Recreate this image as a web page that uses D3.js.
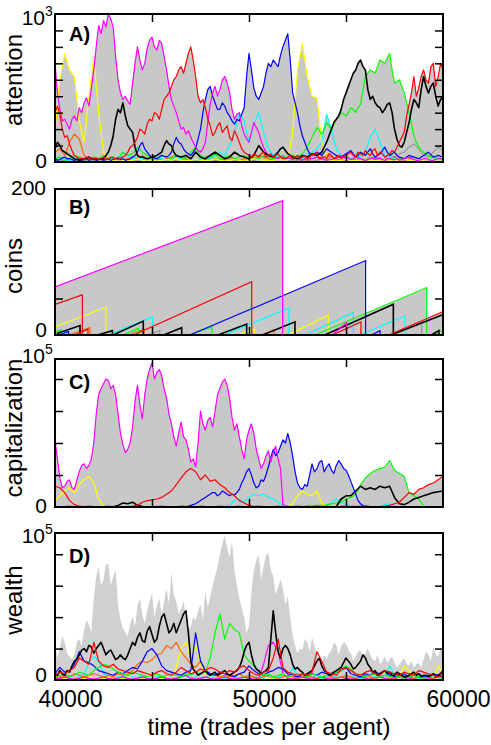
<!DOCTYPE html>
<html><head><meta charset="utf-8">
<script src="https://cdn.jsdelivr.net/npm/d3@7"></script>
<style>body{margin:0;background:#fff}text{font-family:"Liberation Sans",Arial,Helvetica,sans-serif}</style>
</head><body><svg id="c" width="491" height="745"></svg>
<script>
// ---------- DATA ----------
// every series is sampled evenly from T_START to T_END (81 or 161 samples)
const T_START = 40000, T_END = 60000;
const timeTicks = [40000, 45000, 50000, 55000, 60000];
const timeLabels = [40000, 50000, 60000];
const attnTicks = [100, 200, 300, 400, 500, 600, 700, 800];
const coinTicks = [50, 100, 150];
const capTicks = [20000, 40000, 60000, 80000];
const wealthTicks = [20000, 40000, 60000, 80000];

// A) attention
const attnMagenta=[600,420,320,250,260,230,200,260,280,250,330,300,360,390,340,450,560,700,830,780,860,820,900,870,820,640,500,420,380,400,370,350,480,600,700,620,560,600,690,740,760,700,680,740,720,640,560,460,380,340,300,250,200,210,170,190,150,120,90,70,60,80,120,240,350,420,460,400,440,500,520,480,420,320,260,290,300,220,170,140,120,180,240,210,180,130,90,60,40,35,30,25,20,30,30,20,25,20,15,20,20,15,10,20,15,25,20,25,30,20,20,15,10,20,15,20,25,30,40,30,20,25,15,20,30,25,20,15,10,15,20,25,15,20,25,15,10,20,20,15,15,20,10,15,20,25,30,20,15,10,10,15,20,20,15,10,10,15,20,20,15];
const attnRed=[300,340,290,200,150,160,110,70,40,30,20,20,15,30,25,15,20,25,15,20,30,15,20,30,25,20,15,25,30,40,60,90,100,120,150,200,190,170,230,260,250,300,290,260,320,380,400,420,460,500,520,560,580,540,600,660,700,620,520,400,360,380,330,260,220,160,180,220,240,180,200,220,150,130,190,160,120,80,60,50,40,30,50,40,30,50,60,30,40,50,30,40,50,30,20,20,30,40,20,30,40,20,30,40,20,30,50,40,60,20,30,30,20,50,40,20,30,40,20,30,40,50,60,40,30,60,50,40,70,50,40,70,80,40,60,50,30,40,50,70,60,90,120,150,180,280,350,420,520,400,450,520,560,500,480,580,600,460,520,600,560];
const attnYellow=[200,500,660,560,520,250,120,400,640,300,60,20,10,15,10,5,10,20,10,5,10,5,10,15,10,20,10,5,10,15,10,5,10,20,10,5,10,15,10,5,10,20,15,10,5,10,15,20,10,180,560,720,520,400,390,120,30,10,5,10,15,10,5,10,20,10,5,10,15,10,5,10,20,10,5,15,10,20,10,15,10];
const attnBlue=[20,10,15,25,30,20,20,15,10,15,20,10,15,20,10,15,20,10,15,20,10,15,20,10,15,20,25,15,20,10,15,20,30,40,60,100,120,80,60,40,30,25,20,30,40,35,30,40,60,110,150,120,110,80,60,50,40,60,80,140,200,300,380,440,460,400,360,320,320,360,340,300,280,250,230,260,250,290,330,520,660,560,450,400,380,420,460,540,600,580,620,600,580,650,700,740,780,620,420,360,300,220,160,120,80,50,40,50,60,50,40,60,80,70,60,50,40,30,30,40,50,60,70,50,30,40,60,50,40,60,80,50,30,40,50,70,90,60,40,50,60,40,30,25,20,30,40,35,30,25,20,30,40,50,60,45,30,35,40,35,30];
const attnBlack=[80,120,100,70,60,50,40,30,20,15,10,15,20,25,30,20,20,15,15,20,20,40,60,100,160,260,320,300,360,280,220,200,180,90,40,30,30,25,20,25,30,35,40,50,60,100,130,110,100,60,40,35,30,35,40,30,20,40,60,45,30,25,20,30,40,50,60,50,40,30,20,25,30,45,60,50,40,35,30,25,20,30,40,70,100,80,60,50,40,35,30,45,60,80,90,70,50,40,30,25,20,30,40,35,30,40,50,45,40,50,60,90,120,160,200,240,260,280,320,380,420,460,500,540,560,600,620,580,560,440,380,400,360,340,330,300,320,350,360,300,200,140,100,90,120,180,240,320,380,360,330,440,520,460,420,460,480,400,340,380,400];
const attnGreen=[20,25,30,15,10,15,20,30,40,35,30,25,20,15,10,20,30,25,20,30,40,30,20,25,30,25,20,40,60,50,40,45,50,70,90,75,60,50,40,35,30,25,20,30,40,35,30,25,20,30,40,35,30,25,20,40,60,75,90,60,40,30,20,25,30,40,50,35,20,25,30,35,40,30,20,25,30,35,40,30,20,25,30,25,20,30,40,35,30,25,20,25,30,35,40,30,20,25,30,30,30,40,50,70,90,120,150,180,210,190,170,200,240,220,200,230,260,280,300,290,280,300,330,320,300,330,350,440,520,540,560,550,540,580,620,610,600,630,660,560,480,490,500,460,420,360,300,230,160,120,90,70,60,50,40,35,30,25,20,20,20];
const attnCyan=[10,20,15,10,20,30,20,10,15,20,10,20,30,20,60,40,20,30,20,10,20,30,20,10,20,30,20,40,20,10,20,30,20,40,60,40,100,180,300,250,120,230,300,180,80,40,30,20,30,20,30,20,40,60,80,120,290,200,80,40,30,20,40,30,60,150,200,120,40,30,20,30,20,40,30,20,10,20,30,20,20];
const attnOrange=[60,80,40,120,170,140,40,20,30,20,10,20,30,20,10,20,30,20,40,20,30,20,10,20,30,40,20,30,20,10,20,30,40,20,10,20,30,20,10,20,30,20,40,30,20,10,20,30,20,40,20,30,10,20,30,20,40,30,20,10,20,10,30,20,10,20,30,20,10,20,30,20,10,20,30,20,10,20,30,20,10];
const attnGray=[10,5,10,15,10,20,10,5,10,15,10,20,30,15,10,20,10,5,10,15,10,20,15,10,5,10,20,15,10,5,10,15,20,10,5,10,20,10,5,10,15,10,20,10,5,10,15,20,10,5,10,15,10,5,10,20,10,15,10,5,10,20,15,10,20,30,20,10,20,40,30,50,60,90,110,80,40,30,60,90,70];

// B) coins : each segment [start time, start coins, end time, end coins]
const coinsMagenta=[[40000,66,51735,184],[54300,0,55030,17]];
const coinsRed=[[40000,42,41410,55],[41000,0,41700,8],[44050,0,50140,73],[54300,0,55770,18],[57200,0,60000,32]];
const coinsYellow=[[40000,11,42630,38],[49400,0,50300,8],[52000,0,54090,27]];
const coinsCyan=[[40100,0,40600,5],[42750,0,45030,25],[48700,0,52060,37],[52900,0,55380,31],[55700,0,58040,26]];
const coinsBlack=[[40100,2,41290,13],[42200,0,42960,6],[43000,0,44550,19],[45600,0,46530,10],[48400,0,49880,15],[50700,0,52370,18],[53900,0,57440,42],[57300,0,60000,28],[59400,0,59790,6]];
const coinsBlue=[[40200,0,40700,5],[46950,0,56010,102],[56300,0,56750,6]];
const coinsGreen=[[40000,4,40300,7],[43500,0,44300,9],[46900,0,48090,11],[53400,0,59160,65],[59500,0,60000,7]];
const coinsOrange=[[40700,0,41800,10],[43800,0,44600,8],[50600,0,51300,7]];
const coinsGray=[[44800,0,45400,6],[57400,0,58900,16]];

// C) capitalization
const capMagenta=[42000,30000,18000,12000,13000,16000,17000,12000,11000,17000,22000,26000,27000,24000,26000,30000,40000,58000,70000,74000,77000,80000,79000,74000,76000,70000,58000,46000,39000,34000,36000,40000,50000,66000,76000,64000,55000,70000,80000,86000,90000,80000,84000,86000,82000,74000,68000,58000,52000,44000,38000,46000,53000,44000,42000,36000,28000,30000,25000,40000,60000,52000,48000,54000,56000,50000,60000,70000,74000,78000,80000,76000,68000,56000,48000,52000,44000,36000,30000,42000,48000,52000,46000,36000,30000,24000,27000,32000,35000,28000,34000,38000,30000,24000,1500,800,500,300,300,200,200,400,300,300,500,200,200,300,300,100,200,300,400,200,300,300,200,200,500,400,300,300,200,500,300,400,800,600,400,300,200,200,300,300,200,200,300,100,200,300,300,200,200,100,100,200,200,300,300,200,200,100,100,200,200,300,300,200,200,100,100];
const capRed=[13000,12000,9000,4000,1500,500,300,300,200,300,200,300,200,300,200,300,500,1000,3000,4000,4500,5000,6000,8000,10000,14000,18000,22000,24000,22000,17000,20000,16000,17000,14000,12000,9000,7000,4000,2500,1000,300,200,300,200,300,200,300,200,300,200,300,200,300,200,300,500,300,200,300,500,300,200,300,500,300,200,300,500,1000,2000,3000,6000,9000,8000,11000,12000,14000,15000,17000,19000];
const capYellow=[4000,7000,10000,12000,9000,14000,17000,19000,15000,5000,500,200,100,200,100,200,100,200,100,200,100,200,100,200,100,200,100,200,100,200,100,200,100,200,100,200,100,200,100,200,100,200,100,200,100,200,100,200,300,2000,7000,10000,8000,7000,10000,2500,300,200,100,200,100,200,100,200,100,200,100,200,100,200,100,200,100,200,100,200,100,200,100,200,100];
const capBlue=[200,100,300,200,200,300,100,200,200,100,300,200,200,300,100,200,200,100,300,200,200,300,100,200,200,100,300,200,200,300,100,200,200,100,300,200,200,300,100,200,200,100,300,200,200,300,100,200,200,100,300,200,200,400,300,600,1000,1500,2000,3000,4000,5000,6000,7000,8000,9000,9000,7000,8000,10000,9000,8000,7000,8000,7500,9000,11000,15000,18000,22000,24000,20000,15000,12000,13000,17000,16000,20000,25000,31000,36000,32000,34000,38000,42000,40000,46000,40000,32000,22000,15000,12000,11000,14000,13000,20000,27000,22000,24000,28000,29000,22000,25000,27000,23000,21000,26000,29000,27000,24000,23000,20000,16000,12000,8000,4000,2000,1000,500,400,300,200,200,300,300,200,200,100,300,200,200,300,300,200,200,100,100,200,200,300,300,200,200,100,100,200,200,300,300,200,200];
const capCyan=[200,100,200,300,200,100,200,300,200,100,200,300,200,100,200,300,200,100,200,300,200,100,200,300,200,100,200,300,200,100,200,300,200,100,200,300,1000,4000,5000,3000,6000,8000,7000,8000,6000,5000,3000,1000,300,200,300,200,300,200,300,200,300,3000,5000,3000,1500,300,200,300,200,300,200,300,1500,2000,1000,300,200,300,200,300,200,300,200,300,200];
const capGreen=[200,300,200,100,200,300,200,100,200,300,200,100,200,300,200,100,200,300,200,100,200,300,200,100,200,300,200,100,200,300,200,100,200,300,200,100,200,300,200,100,200,300,200,100,200,300,200,100,200,300,200,300,500,800,1000,1200,1500,2000,2500,3000,5000,6000,8000,14000,18000,21000,23000,24000,25000,29000,23000,21000,19000,9000,7000,5000,500,300,200,300,200];
const capBlack=[200,100,200,300,200,100,200,300,200,100,200,300,200,1000,2500,2000,3000,1000,300,200,100,200,300,200,100,200,300,200,100,200,300,200,100,200,300,200,100,200,300,200,100,200,300,200,100,200,300,200,100,200,300,200,100,200,300,200,100,200,300,5000,7000,7000,10000,13000,11000,12000,11000,13000,12000,13000,6000,2000,1500,3000,5000,6000,7000,8000,9000,9500,10000];

// D) wealth
const wealthGray=[22000,14000,20000,28000,24000,17000,15000,13000,16000,24000,26000,22000,32000,38000,35000,30000,52000,66000,72000,60000,64000,73000,74000,60000,66000,70000,48000,38000,33000,30000,28000,36000,40000,34000,47000,52000,42000,36000,44000,50000,55000,40000,47000,52000,42000,50000,58000,48000,68000,54000,50000,42000,45000,50000,40000,32000,34000,40000,38000,44000,48000,38000,57000,46000,53000,60000,66000,72000,80000,86000,92000,84000,78000,88000,70000,60000,52000,46000,40000,30000,34000,56000,70000,76000,80000,64000,72000,79000,81000,70000,66000,54000,59000,64000,58000,48000,53000,40000,28000,22000,17000,20000,19000,26000,24000,18000,27000,22000,16000,12000,11000,16000,13000,17000,19000,24000,22000,16000,21000,24000,23000,19000,17000,12000,15000,18000,19000,14000,17000,20000,16000,13000,12000,16000,10000,12000,15000,11000,13000,15000,11000,8000,10000,12000,14000,10000,9000,12000,8000,10000,11000,8000,13000,18000,16000,12000,21000,16000,15000,20000,18000];
const wealthBlack=[4000,3000,6000,4000,3000,6000,5000,9000,12000,13000,16000,19000,20000,18000,22000,21000,17000,20000,22000,24000,20000,16000,18000,19000,16000,13000,14000,16000,14000,13000,16000,20000,24000,22000,27000,30000,25000,24000,31000,34000,29000,24000,26000,34000,40000,42000,36000,30000,32000,36000,30000,34000,38000,42000,44000,30000,12000,7000,5000,3000,4000,5000,6000,4000,3000,4000,5000,3000,4000,5000,6000,4000,3000,4000,5000,6000,8000,12000,18000,22000,24000,16000,10000,7000,6000,4000,5000,6000,8000,26000,44000,30000,18000,14000,20000,22000,20000,16000,10000,7000,8000,6000,5000,3000,4000,5000,6000,9000,12000,14000,9000,6000,5000,3000,4000,5000,6000,7000,8000,11000,14000,12000,10000,7000,8000,10000,12000,16000,14000,10000,8000,5000,6000,3000,4000,5000,6000,4000,5000,3000,3000,5000,4000,3000,2000,2000,3000,4000,5000,3000,4000,2000,3000,3000,2000,3000,4000,2000,3000,4000,6000];
const wealthGreen=[2000,3000,4000,2000,3000,5000,4000,3000,6000,8000,10000,9000,7000,5000,4000,3000,5000,4000,3000,2000,3000,4000,2000,3000,4000,3000,2000,4000,3000,5000,4000,5000,14000,30000,42000,26000,36000,32000,30000,16000,12000,9000,5000,3000,4000,2000,3000,4000,2000,3000,4000,3000,2000,4000,3000,2000,3000,4000,5000,6000,9000,7000,4000,3000,2000,3000,4000,2000,3000,2000,3000,2000,1000,2000,3000,2000,1000,2000,3000,2000,1000];
const wealthBlue=[4000,8000,5000,6000,10000,18000,12000,11000,9000,6000,5000,4000,3000,5000,4000,6000,8000,7000,12000,18000,20000,16000,9000,6000,5000,4000,3000,5000,6000,30000,12000,6000,4000,3000,5000,4000,3000,2000,4000,5000,9000,6000,4000,3000,5000,6000,8000,7000,4000,3000,2000,3000,2000,4000,3000,5000,4000,3000,5000,6000,8000,4000,3000,2000,4000,3000,5000,4000,6000,3000,2000,3000,4000,2000,3000,4000,2000,3000,4000,3000,2000];
const wealthRed=[3000,5000,4000,6000,8000,14000,12000,10000,24000,12000,9000,8000,10000,7000,6000,5000,4000,6000,5000,4000,3000,5000,6000,4000,3000,5000,8000,6000,4000,5000,7000,6000,8000,7000,5000,4000,6000,5000,8000,9000,6000,4000,3000,5000,6000,14000,26000,8000,5000,4000,3000,4000,3000,5000,18000,12000,5000,4000,3000,7000,8000,6000,4000,3000,5000,6000,4000,3000,6000,5000,4000,3000,5000,4000,3000,6000,5000,4000,3000,2000,3000];
const wealthOrange=[1000,2000,3000,2000,4000,3000,2000,3000,4000,3000,2000,3000,2000,4000,3000,4000,6000,10000,12000,11000,13000,16000,17000,22000,20000,24000,18000,14000,10000,8000,12000,6000,4000,3000,2000,3000,2000,3000,4000,2000,3000,2000,1000,2000,3000,2000,1000,2000,3000,2000,1000,2000,3000,2000,1000,2000,3000,2000,1000,2000,3000,2000,1000,2000,3000,2000,1000,2000,3000,2000,1000,2000,3000,2000,1000,2000,3000,2000,1000,2000,3000];
const wealthYellow=[1000,500,1000,2000,1000,500,1000,2000,1000,500,1000,2000,1000,500,1000,2000,1000,500,1000,2000,1000,500,1000,2000,1000,8000,20000,24000,14000,22000,10000,2000,1000,500,1000,2000,1000,500,1000,2000,1000,500,1000,2000,1000,500,1000,2000,1000,500,1000,2000,1000,500,1000,2000,1000,500,1000,2000,1000,500,1000,2000,1000,500,1000,2000,1000,500,1000,2000,9000,6000,1000,2000,1000,500,1000,9000,4000];
const wealthMagenta=[500,1000,2000,1000,500,1000,2000,1000,500,1000,2000,1000,500,1000,2000,1000,500,1000,2000,1000,500,1000,2000,1000,500,1000,2000,3000,1000,500,1000,2000,1000,500,1000,2000,1000,500,1000,2000,1000,500,1000,10000,22000,24000,18000,4000,1000,500,1000,2000,1000,500,1000,2000,1000,500,1000,2000,1000,500,1000,2000,1000,500,1000,2000,1000,500,1000,2000,1000,500,1000,2000,1000,500,1000,2000,1000];
const wealthCyan=[1000,2000,1000,3000,1000,2000,3000,12000,15000,12000,4000,2000,1000,2000,3000,1000,2000,1000,3000,2000,1000,2000,3000,1000,2000,1000,2000,3000,1000,2000,1000,2000,3000,1000,2000,1000,2000,3000,1000,2000,1000,2000,3000,1000,2000,1000,2000,3000,1000,8000,3000,2000,1000,2000,3000,1000,2000,1000,3000,2000,1000,2000,3000,1000,2000,1000,2000,3000,1000,9000,3000,2000,1000,2000,3000,1000,2000,1000,3000,2000,1000];

// ---------- DRAWING ----------
const C = {magenta:'#ff00ff', red:'#ff0000', yellow:'#ffff00', blue:'#0000ff', black:'#000000',
           green:'#00ff00', cyan:'#00ffff', orange:'#ff6600', gray:'#999999'};
const FILL = '#c8c8c8', FILL_D = '#d0d0d0';
const svg = d3.select('#c');
const X0 = 55, X1 = 443;
const x = d3.scaleLinear().domain([T_START, T_END]).range([X0, X1]);
const tOf = (arr, i) => T_START + i * (T_END - T_START) / (arr.length - 1);

function makePanel(key, top, bottom, max, ticks) {
  const y = d3.scaleLinear().domain([0, max]).range([bottom, top]);
  const g = svg.append('g');
  svg.append('clipPath').attr('id', 'clip' + key).append('rect')
     .attr('x', X0).attr('y', top).attr('width', X1 - X0).attr('height', bottom - top);
  const plot = g.append('g').attr('clip-path', `url(#clip${key})`);
  return {key, top, bottom, y, g, plot, ticks};
}
function finishPanel(p) {
  const add = (axis, tr) => {
    const a = p.g.append('g').attr('transform', tr).call(axis);
    a.select('.domain').remove();
    a.selectAll('line').attr('stroke', '#000').attr('stroke-width', 1.5);
  };
  add(d3.axisLeft(p.y).tickValues(p.ticks).tickSize(-8).tickFormat(''), `translate(${X0},0)`);
  add(d3.axisRight(p.y).tickValues(p.ticks).tickSize(-8).tickFormat(''), `translate(${X1},0)`);
  add(d3.axisTop(x).tickValues(timeTicks.slice(1, -1)).tickSize(-8).tickFormat(''), `translate(0,${p.top})`);
  add(d3.axisBottom(x).tickValues(timeTicks.slice(1, -1)).tickSize(-8).tickFormat(''), `translate(0,${p.bottom})`);
  p.g.append('rect').attr('x', X0).attr('y', p.top).attr('width', X1 - X0).attr('height', p.bottom - p.top)
     .attr('fill', 'none').attr('stroke', '#000').attr('stroke-width', 2);
}
function areaGen(p, arr) {
  return d3.area().x((d, i) => x(tOf(arr, i))).y0(p.y(0)).y1(d => p.y(d))(arr);
}
function drawSeries(p, list, fill) {
  if (fill) list.forEach(s => p.plot.append('path').attr('d', areaGen(p, s.v)).attr('fill', fill));
  list.forEach(s => {
    const line = d3.line().x((d, i) => x(tOf(s.v, i))).y(d => p.y(d));
    p.plot.append('path').attr('d', line(s.v)).attr('fill', 'none')
      .attr('stroke', s.c).attr('stroke-width', s.w || 1.2).attr('stroke-linejoin', 'round');
  });
}
function labels(p, letter, letterY, titleText, titleY, topMain, topSup, topY, zeroY) {
  p.g.append('text').attr('x', 69).attr('y', letterY).attr('font-size', 20).attr('font-weight', 'bold').text(letter);
  p.g.append('text').attr('transform', `translate(22,${titleY}) rotate(-90)`).attr('text-anchor', 'middle')
     .attr('font-size', 24).text(titleText);
  p.g.append('text').attr('x', topSup ? 45 : 46).attr('y', topY).attr('text-anchor', 'end').attr('font-size', 21).text(topMain);
  if (topSup) p.g.append('text').attr('x', 45).attr('y', topY - 9).attr('font-size', 14).text(topSup);
  p.g.append('text').attr('x', 47).attr('y', zeroY).attr('text-anchor', 'end').attr('font-size', 21).text('0');
}

// Panel A
const pA = makePanel('A', 14, 162, 900, attnTicks);
drawSeries(pA, [
  {v: attnGray, c: C.gray}, {v: attnOrange, c: C.orange}, {v: attnCyan, c: C.cyan}, {v: attnYellow, c: C.yellow},
  {v: attnGreen, c: C.green}, {v: attnBlue, c: C.blue}, {v: attnMagenta, c: C.magenta},
  {v: attnBlack, c: C.black, w: 1.6}, {v: attnRed, c: C.red}
], FILL);
finishPanel(pA);
labels(pA, 'A)', 41, 'attention', 80, '10', '3', 25, 168);

// Panel B
const pB = makePanel('B', 189, 335, 200, coinTicks);
const coinGroups = [
  {s: coinsGray, c: C.gray}, {s: coinsOrange, c: C.orange}, {s: coinsYellow, c: C.yellow}, {s: coinsCyan, c: C.cyan},
  {s: coinsGreen, c: C.green}, {s: coinsBlack, c: C.black, w: 1.6}, {s: coinsRed, c: C.red},
  {s: coinsBlue, c: C.blue}, {s: coinsMagenta, c: C.magenta}
];
const segLine = d3.line().x(d => x(d[0])).y(d => pB.y(d[1]));
coinGroups.forEach(gr => gr.s.forEach(sg => {
  pB.plot.append('path').attr('fill', FILL)
    .attr('d', segLine([[sg[0], 0], [sg[0], sg[1]], [sg[2], sg[3]], [sg[2], 0]]) + 'Z');
}));
coinGroups.forEach(gr => gr.s.forEach(sg => {
  pB.plot.append('path').attr('fill', 'none').attr('stroke', gr.c).attr('stroke-width', gr.w || 1.2)
    .attr('d', segLine([[sg[0], sg[1]], [sg[2], sg[3]], [sg[2], 0]]));
}));
finishPanel(pB);
labels(pB, 'B)', 214, 'coins', 266, '200', null, 195, 337);

// Panel C
const pC = makePanel('C', 359, 507, 92500, capTicks);
drawSeries(pC, [
  {v: capCyan, c: C.cyan}, {v: capGreen, c: C.green}, {v: capYellow, c: C.yellow}, {v: capBlack, c: C.black, w: 1.6},
  {v: capBlue, c: C.blue}, {v: capRed, c: C.red}, {v: capMagenta, c: C.magenta}
], FILL);
finishPanel(pC);
labels(pC, 'C)', 389, 'capitalization', 428, '10', '5', 363, 513);

// Panel D
const pD = makePanel('D', 533, 680, 93500, wealthTicks);
pD.plot.append('path').attr('fill', FILL_D).attr('d', areaGen(pD, wealthGray));
drawSeries(pD, [
  {v: wealthCyan, c: C.cyan}, {v: wealthYellow, c: C.yellow}, {v: wealthMagenta, c: C.magenta},
  {v: wealthOrange, c: C.orange}, {v: wealthBlue, c: C.blue}, {v: wealthGreen, c: C.green},
  {v: wealthBlack, c: C.black, w: 1.6}, {v: wealthRed, c: C.red}
], null);
finishPanel(pD);
labels(pD, 'D)', 563, 'wealth', 600, '10', '5', 543, 682);

// time axis labels
const xa = svg.append('g').attr('transform', 'translate(15,680)')
  .call(d3.axisBottom(x).tickValues(timeLabels).tickSize(0).tickFormat(d3.format('d')));
xa.select('.domain').remove();
xa.selectAll('text').attr('font-size', 23).attr('fill', '#000')
  .attr('font-family', '"Liberation Sans",Arial,sans-serif').attr('dy', 0).attr('y', 27);
svg.append('text').attr('x', 269).attr('y', 735).attr('text-anchor', 'middle').attr('font-size', 24)
  .text('time (trades per agent)');
</script></body></html>
